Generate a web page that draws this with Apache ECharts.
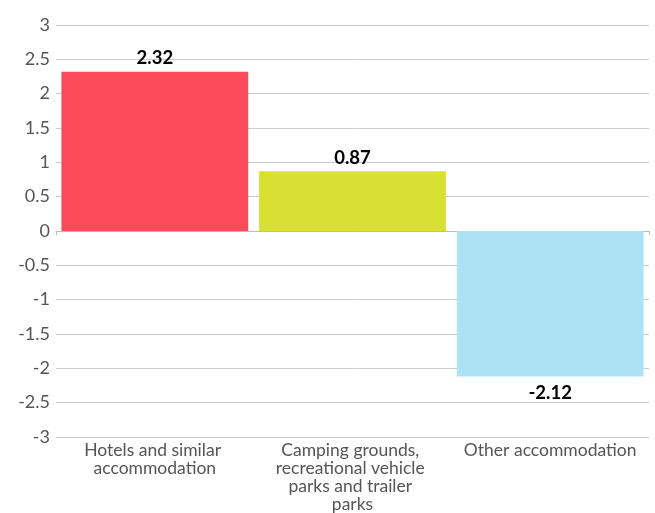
<!DOCTYPE html>
<html>
<head>
<meta charset="utf-8">
<style>
  html, body { margin: 0; padding: 0; background: #fff; }
  #chart { width: 655px; height: 513px; }
</style>
<script src="https://cdn.jsdelivr.net/npm/echarts@6/dist/echarts.min.js"></script>
</head>
<body>
<div id="chart"></div>
<script>
// categories and values
var categories = ['Hotels and similar accommodation', 'Camping grounds, recreational vehicle parks and trailer parks', 'Other accommodation'];
var values = [2.32, 0.87, -2.12];
var barColors = ['#FB4B5B', '#D9E031', '#ADE2F4'];

var fontName = 'Lato, "Noto Sans", sans-serif';

var chart = echarts.init(document.getElementById('chart'));

var seriesData = values.map(function (v, i) {
    return {
        value: v,
        itemStyle: { color: barColors[i] },
        label: { position: v < 0 ? 'bottom' : 'top', distance: v < 0 ? 7 : 4 }
    };
});

// wrap widths for the bottom labels (the last one stays on one line)
var labelWidths = [158, 158, 196];
var labelData = categories.map(function (c, i) {
    return { value: c, textStyle: { width: labelWidths[i] } };
});

chart.setOption({
    animation: false,
    grid: { left: 56, right: 6, top: 25, bottom: 74 },
    xAxis: [
        {
            // axis line through zero, with boundary ticks
            type: 'category',
            data: categories,
            position: 'bottom',
            axisLine: { onZero: true, lineStyle: { color: '#bbb', width: 1 } },
            axisTick: { show: true, length: 4, lineStyle: { color: '#bbb' } },
            axisLabel: { show: false }
        },
        {
            // labels at the bottom of the plot
            type: 'category',
            data: labelData,
            position: 'bottom',
            axisLine: { show: false, onZero: false },
            axisTick: { show: false },
            axisLabel: {
                color: '#555',
                fontFamily: fontName,
                fontSize: 17.5,
                lineHeight: 18,
                margin: 4,
                width: 158,
                overflow: 'break',
                interval: 0
            }
        }
    ],
    yAxis: {
        type: 'value',
        min: -3,
        max: 3,
        interval: 0.5,
        axisLine: { show: false },
        axisTick: { show: false },
        axisLabel: {
            color: '#555',
            fontFamily: fontName,
            fontSize: 18,
            margin: 6
        },
        splitLine: { lineStyle: { color: '#ccc', width: 1 } }
    },
    series: [{
        type: 'bar',
        xAxisIndex: 0,
        data: seriesData,
        barCategoryGap: '5.5%',
        label: {
            show: true,
            color: '#000',
            fontFamily: fontName,
            fontWeight: 'bold',
            fontSize: 18.5
        }
    }]
});
</script>
</body>
</html>
